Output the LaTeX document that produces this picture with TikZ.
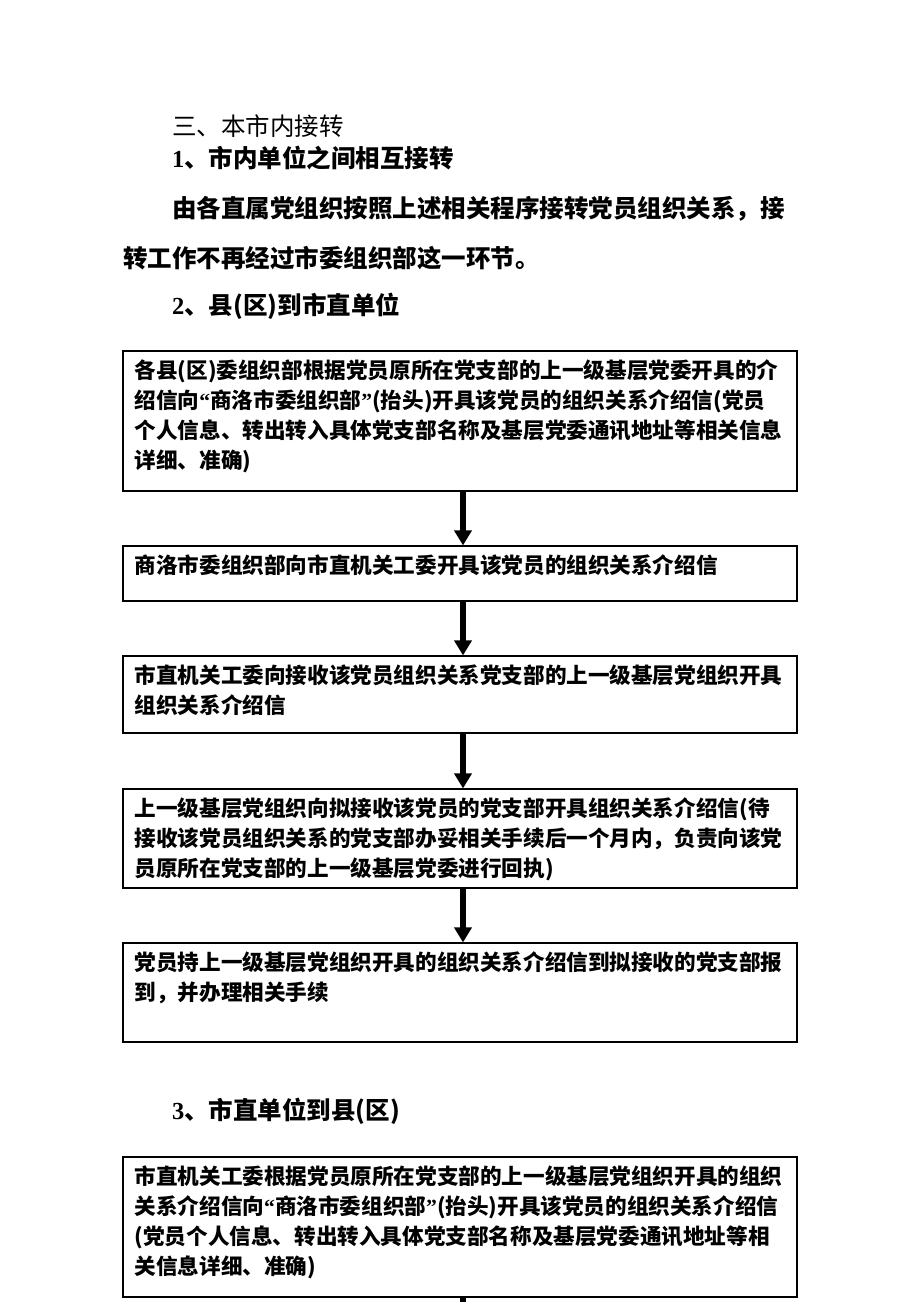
\documentclass[tikz,border=0pt]{standalone}
\usepackage{fontspec}
\setmainfont{Noto Sans CJK SC}
\newfontfamily\numfont{Liberation Serif}
\newcommand\openq{{\numfont “}}
\newcommand\closeq{{\numfont ”}}
\usetikzlibrary{calc,arrows.meta}

\tikzset{
  flowbox/.style={draw,line width=1.2pt,minimum width=674pt,inner sep=0pt},
  boxtext/.style={anchor=base west,align=left,inner sep=0pt,
    font=\fontsize{21.6pt}{30pt}\selectfont\bfseries},
  headtext/.style={anchor=base west,inner sep=0pt,
    font=\fontsize{24.5pt}{30pt}\selectfont\bfseries},
  flowarrow/.style={line width=6.5pt,-{Triangle[length=15pt,width=17pt]}}
}

\begin{document}
\begin{tikzpicture}[x=1pt,y=-1pt]
  % Page
  \useasboundingbox (0,0) rectangle (920,1302);
  \clip (0,0) rectangle (920,1302);
  %
  % Headings
  \node[headtext,font=\fontsize{24.5pt}{30pt}\selectfont] (sec) at (172,135) {三、本市内接转};
  \node[headtext] (sub1) at (172,167) {{\numfont 1}、市内单位之间相互接转};
  \node[headtext] (para1) at (172,217) {由各直属党组织按照上述相关程序接转党员组织关系，接};
  \node[headtext] (para2) at (123,267) {转工作不再经过市委组织部这一环节。};
  \node[headtext] (sub2) at (172,314) {{\numfont 2}、县(区)到市直单位};
  \node[headtext] (sub3) at (172,1119) {{\numfont 3}、市直单位到县(区)};
  %
  % Boxes
  \node[flowbox,minimum height=140pt] (box1) at (460,421) {};
  \node[flowbox,minimum height=55pt] (box2) at (460,573.5) {};
  \node[flowbox,minimum height=77pt] (box3) at (460,694.5) {};
  \node[flowbox,minimum height=99pt] (box4) at (460,838.5) {};
  \node[flowbox,minimum height=99pt] (box5) at (460,992.5) {};
  \node[flowbox,minimum height=140pt] (box6) at (460,1227) {};
  \coordinate (next) at (463,1360);
  %
  % Box texts (anchored on the baseline of the last line)
  \node[boxtext] (txt1) at ($(box1.north west)+(12,118)$)
    {各县(区)委组织部根据党员原所在党支部的上一级基层党委开具的介\\
     绍信向\openq 商洛市委组织部\closeq(抬头)开具该党员的组织关系介绍信(党员\\
     个人信息、转出转入具体党支部名称及基层党委通讯地址等相关信息\\
     详细、准确)};
  \node[boxtext] (txt2) at ($(box2.north west)+(12,28)$)
    {商洛市委组织部向市直机关工委开具该党员的组织关系介绍信};
  \node[boxtext] (txt3) at ($(box3.north west)+(12,58)$)
    {市直机关工委向接收该党员组织关系党支部的上一级基层党组织开具\\
     组织关系介绍信};
  \node[boxtext] (txt4) at ($(box4.north west)+(12,88)$)
    {上一级基层党组织向拟接收该党员的党支部开具组织关系介绍信(待\\
     接收该党员组织关系的党支部办妥相关手续后一个月内，负责向该党\\
     员原所在党支部的上一级基层党委进行回执)};
  \node[boxtext] (txt5) at ($(box5.north west)+(12,58)$)
    {党员持上一级基层党组织开具的组织关系介绍信到拟接收的党支部报\\
     到，并办理相关手续};
  \node[boxtext] (txt6) at ($(box6.north west)+(12,118)$)
    {市直机关工委根据党员原所在党支部的上一级基层党组织开具的组织\\
     关系介绍信向\openq 商洛市委组织部\closeq(抬头)开具该党员的组织关系介绍信\\
     (党员个人信息、转出转入具体党支部名称及基层党委通讯地址等相\\
     关信息详细、准确)};
  %
  % Arrows
  \draw[flowarrow] ([xshift=3pt]box1.south) -- ([xshift=3pt]box2.north);
  \draw[flowarrow] ([xshift=3pt]box2.south) -- ([xshift=3pt]box3.north);
  \draw[flowarrow] ([xshift=3pt]box3.south) -- ([xshift=3pt]box4.north);
  \draw[flowarrow] ([xshift=3pt]box4.south) -- ([xshift=3pt]box5.north);
  \draw[flowarrow] ([xshift=3pt]box6.south) -- (next);
  %
\end{tikzpicture}
\end{document}
